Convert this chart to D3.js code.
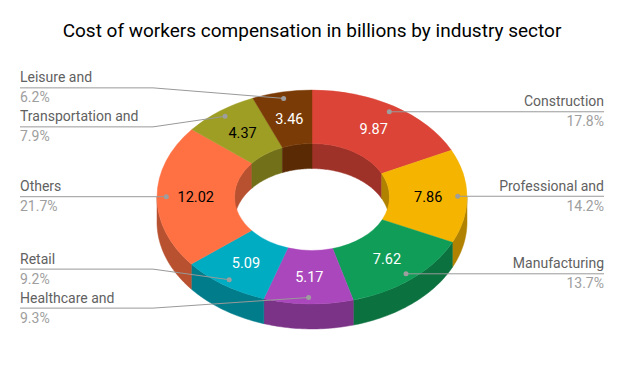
<!DOCTYPE html>
<html><head><meta charset="utf-8">
<script src="https://cdn.jsdelivr.net/npm/d3@7"></script>
<style>body{margin:0;background:#fff}svg{display:block}</style></head>
<body><svg id="c" width="624" height="386"></svg>
<script>
const title = "Cost of workers compensation in billions by industry sector";
const categories = ["Construction","Professional and","Manufacturing","Healthcare and","Retail","Others","Transportation and","Leisure and"];
const values = [9.87,7.86,7.62,5.17,5.09,12.02,4.37,3.46];
const colors = ["#db4437","#f4b400","#0f9d58","#ab47bc","#00acc1","#ff7043","#9e9d24","#7b3b06"];
const labelInk = ["#fff","#000","#fff","#fff","#fff","#000","#000","#fff"];

const W = 624, H = 386, cx = 312, cy = 197, rx = 155, k = 0.69, hole = 0.5, depth = 25;
const rIn = rx * hole;
const svg = d3.select("#c");
svg.append("rect").attr("width", W).attr("height", H).attr("fill", "#fff");

svg.append("text").attr("x", W/2).attr("y", 37).attr("text-anchor", "middle")
  .attr("font-family", "Roboto").attr("font-size", 19).attr("fill", "#000").text(title);

const data = categories.map((c,i)=>({name:c, value:values[i], color:colors[i], ink:labelInk[i]}));
const pie = d3.pie().value(d=>d.value).sort(null);
const arcs = pie(data);
const total = d3.sum(values);
const pct = d3.format(".1%");

function pt(a, r, dy=0){ return [cx + r*Math.sin(a), cy - r*k*Math.cos(a) + dy]; }
const line = d3.line();
function wall(a0, a1, r){
  const n = Math.max(2, Math.ceil((a1-a0)/0.02));
  const top = d3.range(n+1).map(i=>pt(a0+(a1-a0)*i/n, r));
  const bot = d3.range(n+1).map(i=>pt(a1-(a1-a0)*i/n, r, depth));
  return line(top.concat(bot)) + "Z";
}
const dark = (c,f)=>{ const h=d3.rgb(c); return d3.rgb(h.r*f,h.g*f,h.b*f).formatHex(); };

const gw = svg.append("g");
arcs.forEach(a=>{
  [[0, Math.PI/2],[3*Math.PI/2, 2*Math.PI]].forEach(([lo,hi])=>{
    const a0 = Math.max(a.startAngle, lo), a1 = Math.min(a.endAngle, hi);
    if (a1 > a0) gw.append("path").attr("d", wall(a0,a1,rIn)).attr("fill", dark(a.data.color,0.72))
      .attr("stroke", dark(a.data.color,0.72)).attr("stroke-width",0.5);
  });
});
arcs.forEach(a=>{
  const a0 = Math.max(a.startAngle, Math.PI/2), a1 = Math.min(a.endAngle, 3*Math.PI/2);
  if (a1 > a0) gw.append("path").attr("d", wall(a0,a1,rx)).attr("fill", dark(a.data.color,0.72))
    .attr("stroke", dark(a.data.color,0.72)).attr("stroke-width",0.5);
});
const arcGen = d3.arc().innerRadius(rIn).outerRadius(rx);
svg.append("g").attr("transform", `translate(${cx},${cy}) scale(1,${k})`)
  .selectAll("path").data(arcs).join("path")
  .attr("d", arcGen).attr("fill", d=>d.data.color).attr("stroke", d=>d.data.color).attr("stroke-width", 0.5);

arcs.forEach(a=>{
  const m = (a.startAngle + a.endAngle)/2;
  const p = pt(m, rx*0.75);
  svg.append("text").attr("x", p[0]).attr("y", p[1]).attr("dy","0.36em").attr("text-anchor","middle")
    .attr("font-family","Roboto").attr("font-size",14.5).attr("fill", a.data.ink).text(a.data.value.toFixed(2));
});

const items = arcs.map(a=>{
  const m = (a.startAngle + a.endAngle)/2;
  const p = pt(m, rx*0.94);
  return {a, m, p, left: m > Math.PI, y: p[1]};
});
function spread(list, gap){
  list.sort((u,v)=>u.p[1]-v.p[1]);
  for (let it=0; it<50; it++){
    let moved=false;
    for (let i=0;i<list.length-1;i++){
      const d = list[i+1].y - list[i].y;
      if (d < gap){ const s=(gap-d)/2; list[i].y-=s; list[i+1].y+=s; moved=true; }
    }
    if(!moved) break;
  }
}
spread(items.filter(d=>d.left), 39);
spread(items.filter(d=>!d.left), 39);

const gl = svg.append("g");
items.forEach(d=>{
  const xEnd = d.left ? 20 : 604, xElb = d.left ? 153 : W-153;
  const pts = [[xEnd, d.y],[xElb, d.y], d.p];
  gl.append("path").attr("d", line(pts)).attr("fill","none").attr("stroke","#999").attr("stroke-width",1);
  gl.append("circle").attr("cx", d.p[0]).attr("cy", d.p[1]).attr("r", 2.5).attr("fill","#9e9e9e");
  const anchor = d.left ? "start" : "end";
  gl.append("text").attr("x", xEnd).attr("y", d.y-5.5).attr("text-anchor",anchor)
    .attr("font-family","Roboto").attr("font-size",14).attr("fill","#616161").text(d.a.data.name);
  gl.append("text").attr("x", xEnd).attr("y", d.y+14.5).attr("text-anchor",anchor)
    .attr("font-family","Roboto").attr("font-size",14).attr("fill","#9e9e9e").text(pct(d.a.data.value/total));
});
</script></body></html>
